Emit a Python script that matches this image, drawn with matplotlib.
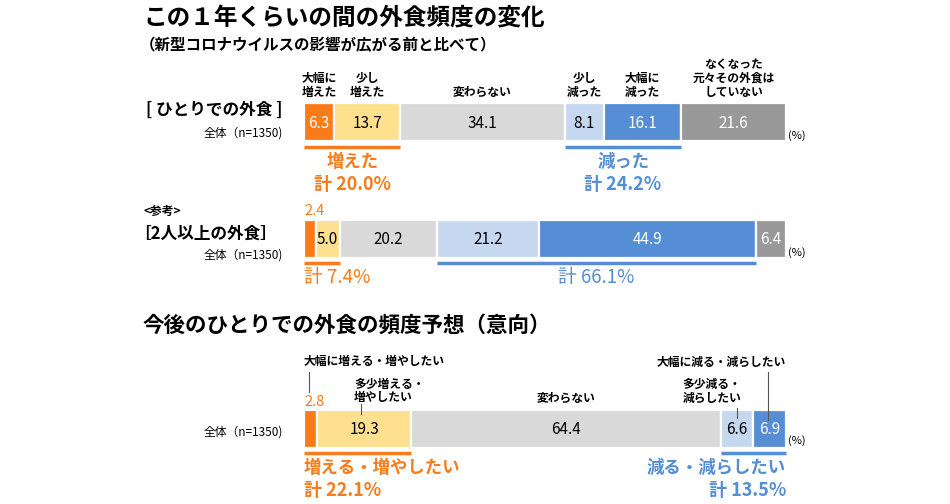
import matplotlib.pyplot as plt
import numpy as np

plt.rcParams['font.family'] = ['Noto Sans CJK JP', 'DejaVu Sans']

# data
cats1 = ["大幅に\n増えた", "少し\n増えた", "変わらない", "少し\n減った", "大幅に\n減った",
         "なくなった\n元々その外食は\nしていない"]
solo = [6.3, 13.7, 34.1, 8.1, 16.1, 21.6]
group = [2.4, 5.0, 20.2, 21.2, 44.9, 6.4]
future_cats = ["大幅に増える・増やしたい", "多少増える・\n増やしたい", "変わらない",
               "多少減る・\n減らしたい", "大幅に減る・減らしたい"]
future = [2.8, 19.3, 64.4, 6.6, 6.9]

solo_up, solo_down = 20.0, 24.2
group_up, group_down = 7.4, 66.1
future_up, future_down = 22.1, 13.5

colors6 = ["#F97B1A", "#FFE08F", "#D9D9D9", "#C6D8F0", "#558ED5", "#999999"]
colors5 = ["#F97B1A", "#FFE08F", "#D9D9D9", "#C6D8F0", "#558ED5"]
txt6 = ["white", "black", "black", "black", "white", "white"]
txt5 = ["white", "black", "black", "black", "white"]
ORANGE = "#F97B1A"
BLUE = "#558ED5"

# layout: axis x in percent, y in pixels
X0, SCALE = 304, 4.82
fig = plt.figure(figsize=(9.5, 5.04), dpi=100)
ax = fig.add_axes([0, 0, 1, 1])
ax.set_xlim(-X0 / SCALE, (950 - X0) / SCALE)
ax.set_ylim(504, 0)
ax.axis("off")


def px(x):
    return (x - X0) / SCALE


def draw_bar(y, vals, colors, tcolors, skip_first=False):
    lefts = np.concatenate([[0], np.cumsum(vals)[:-1]])
    ax.barh(y, vals, left=lefts, height=38, color=colors, edgecolor="white", linewidth=1.6)
    for i, (l, v) in enumerate(zip(lefts, vals)):
        if skip_first and i == 0:
            continue
        ax.text(l + v / 2, y + 1, f"{v:.1f}", ha="center", va="center",
                fontsize=11, color=tcolors[i])
    return lefts


def underline(y, x1, x2, color):
    ax.plot([x1, x2], [y, y], color=color, lw=2.5, solid_capstyle="butt")


# titles
ax.text(px(143), 18, "この１年くらいの間の外食頻度の変化", fontsize=17, fontweight="bold",
        va="center", ha="left")
ax.text(px(140), 45, "（新型コロナウイルスの影響が広がる前と比べて）", fontsize=11.2,
        fontweight="bold", va="center", ha="left")

# ---- row 1 ----
y1 = 122
l1 = draw_bar(y1, solo, colors6, txt6)
ax.text(px(283), 110, "[ ひとりでの外食 ]", fontsize=12, fontweight="bold", ha="right", va="center")
ax.text(px(283), 133, "全体（n=1350)", fontsize=8.5, ha="right", va="center")
for i, c in enumerate(cats1):
    ax.text(l1[i] + solo[i] / 2, 99, c, fontsize=8.5, fontweight="bold", ha="center", va="bottom",
            linespacing=1.1)
ax.text(100.5, 136, "(%)", fontsize=8, ha="left", va="center")
underline(146.5, 0, solo[0] + solo[1], ORANGE)
underline(146.5, l1[3], l1[4] + solo[4], BLUE)
ax.text((solo[0] + solo[1]) / 2, 162, "増えた", color=ORANGE, fontsize=12.5, fontweight="bold",
        ha="center", va="center")
ax.text((solo[0] + solo[1]) / 2, 184, f"計 {solo_up:.1f}%", color=ORANGE, fontsize=13,
        fontweight="bold", ha="center", va="center")
mid_down = (l1[3] + l1[4] + solo[4]) / 2
ax.text(mid_down, 162, "減った", color=BLUE, fontsize=12.5, fontweight="bold",
        ha="center", va="center")
ax.text(mid_down, 184, f"計 {solo_down:.1f}%", color=BLUE, fontsize=13, fontweight="bold",
        ha="center", va="center")

# ---- row 2 ----
y2 = 239
l2 = draw_bar(y2, group, colors6, txt6, skip_first=True)
ax.text(px(143), 211, "<参考>", fontsize=8.5, fontweight="bold", ha="left", va="center")
ax.text(px(134), 234, "［2人以上の外食］", fontsize=12, fontweight="bold", ha="left", va="center")
ax.text(px(283), 255, "全体（n=1350)", fontsize=8.5, ha="right", va="center")
ax.text(0, 211, f"{group[0]:.1f}", color=ORANGE, fontsize=10.5, ha="left", va="center")
ax.text(100.5, 253, "(%)", fontsize=8, ha="left", va="center")
underline(263, 0, group[0] + group[1], ORANGE)
underline(263, l2[3], l2[4] + group[4], BLUE)
ax.text(0, 277, f"計 {group_up:.1f}%", color=ORANGE, fontsize=13.5, ha="left", va="center")
ax.text((l2[3] + l2[4] + group[4]) / 2, 277, f"計 {group_down:.1f}%", color=BLUE, fontsize=13.5,
        ha="center", va="center")

# ---- row 3 ----
ax.text(px(143), 325, "今後のひとりでの外食の頻度予想（意向）", fontsize=15.5, fontweight="bold",
        ha="left", va="center")
y3 = 429
l3 = draw_bar(y3, future, colors5, txt5, skip_first=True)
ax.text(px(283), 432, "全体（n=1350)", fontsize=8.5, ha="right", va="center")
ax.text(100.5, 441, "(%)", fontsize=8, ha="left", va="center")
ax.text(0, 402, f"{future[0]:.1f}", color=ORANGE, fontsize=10.5, ha="left", va="center")
# callouts
ax.text(px(304), 361, future_cats[0], fontsize=8.5, fontweight="bold", ha="left", va="center")
ax.plot([px(309), px(309)], [372, 392], color="#555555", lw=0.8)
ax.text(px(354), 391, future_cats[1], fontsize=8.5, fontweight="bold", ha="left", va="center",
        linespacing=1.1)
ax.plot([px(361), px(361)], [404, 414], color="#555555", lw=0.8)
ax.text(l3[2] + future[2] / 2, 398, future_cats[2], fontsize=8.5, fontweight="bold",
        ha="center", va="center")
ax.text(px(741), 391, future_cats[3], fontsize=8.5, fontweight="bold", ha="right", va="center",
        linespacing=1.1)
ax.plot([px(737), px(737)], [408, 418], color="#555555", lw=0.8)
ax.text(px(786), 362, future_cats[4], fontsize=8.5, fontweight="bold", ha="right", va="center")
ax.plot([px(768), px(768)], [372, 420], color="#555555", lw=0.8)

underline(453, 0, future[0] + future[1], ORANGE)
underline(453, l3[3], l3[4] + future[4], BLUE)
ax.text(0, 468, "増える・増やしたい", color=ORANGE, fontsize=12.5, fontweight="bold",
        ha="left", va="center")
ax.text(0, 490, f"計 {future_up:.1f}%", color=ORANGE, fontsize=13, fontweight="bold",
        ha="left", va="center")
ax.text(100, 468, "減る・減らしたい", color=BLUE, fontsize=12.5, fontweight="bold",
        ha="right", va="center")
ax.text(100, 490, f"計 {future_down:.1f}%", color=BLUE, fontsize=13, fontweight="bold",
        ha="right", va="center")

fig.savefig("out.png", dpi=100, facecolor="white")
